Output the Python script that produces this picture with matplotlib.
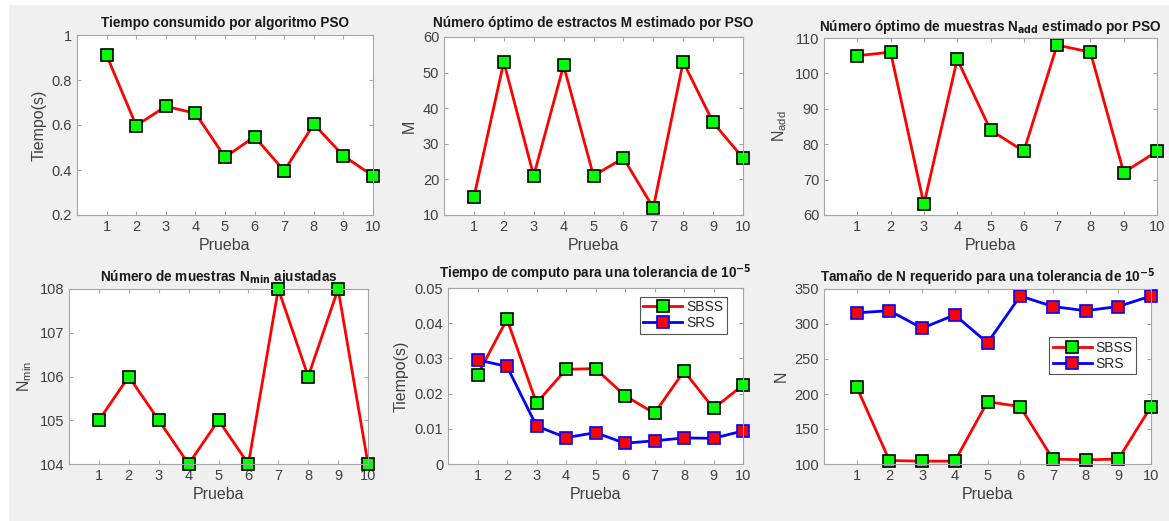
import matplotlib
matplotlib.use('Agg')
import matplotlib.pyplot as plt
from matplotlib.patches import Rectangle

plt.rcParams['font.family'] = ['Liberation Sans', 'DejaVu Sans']

prueba = [1, 2, 3, 4, 5, 6, 7, 8, 9, 10]

# Tiempo consumido por PSO
tiempo_pso = [0.91, 0.597, 0.683, 0.652, 0.457, 0.548, 0.396, 0.604, 0.463, 0.374]
# Numero optimo de estratos M
m_opt = [15, 53, 21, 52, 21, 26, 12, 53, 36, 26]
# Numero optimo de muestras N_add
n_add = [105, 106, 63, 104, 84, 78, 108, 106, 72, 78]
# Numero de muestras N_min
n_min = [105, 106, 105, 104, 105, 104, 108, 106, 108, 104]
# Tiempo de computo (tolerancia 1e-5)
t_sbss = [0.0253, 0.0411, 0.0173, 0.0269, 0.0271, 0.0194, 0.0144, 0.0264, 0.0158, 0.0224]
t_srs = [0.0296, 0.0277, 0.0108, 0.0075, 0.0089, 0.0059, 0.0066, 0.0074, 0.0073, 0.0094]
# Tamano de N requerido
n_sbss = [210, 105, 104, 104, 189, 182, 107, 106, 107, 182]
n_srs = [316, 319, 294, 313, 273, 340, 325, 319, 325, 340]

W, H = 1169, 521
BG = '#f0f0f0'
EDGE = '#a6a6a6'
TXT = '#404040'

fig = plt.figure(figsize=(W / 100, H / 100), dpi=100, facecolor=BG)
# thin white strips on top and left edges of the screenshot
fig.patches.append(Rectangle((0, 1 - 4 / H), 1, 4 / H, transform=fig.transFigure,
                             color='white', zorder=-1))
fig.patches.append(Rectangle((0, 0), 8 / W, 1, transform=fig.transFigure,
                             color='white', zorder=-1))


def make_ax(l, t, r, b):
    ax = fig.add_axes([l / W, 1 - b / H, (r - l) / W, (b - t) / H])
    for s in ax.spines.values():
        s.set_color(EDGE)
        s.set_linewidth(0.8)
    ax.tick_params(direction='in', top=True, right=True, color=EDGE,
                   labelcolor=TXT, labelsize=10.5, length=3)
    ax.set_xlim(0, 10)
    ax.set_xticks(prueba)
    ax.set_xlabel('Prueba', color=TXT, fontsize=11.5, labelpad=3)
    return ax


sbss_style = dict(color='red', lw=2, marker='s', markersize=8.5, clip_on=False,
                  markerfacecolor='#00ff00', markeredgecolor='black', markeredgewidth=1.2)
srs_style = dict(color='blue', lw=2, marker='s', markersize=8.5, clip_on=False,
                 markerfacecolor='red', markeredgecolor='blue', markeredgewidth=1.2)
title_kw = dict(fontsize=9.8, fontweight='bold', color='#1a1a1a')


def add_legend(ax, anchor):
    leg = ax.legend(loc='upper right', bbox_to_anchor=anchor, fontsize=10,
                    fancybox=False, framealpha=1, edgecolor='#555555',
                    handlelength=2.8, handletextpad=0.3, borderpad=0.25,
                    labelspacing=0.15, borderaxespad=0)
    leg.get_frame().set_linewidth(0.8)
    for t in leg.get_texts():
        t.set_color('#262626')


# Panel 1
ax = make_ax(77, 35, 373, 215)
ax.plot(prueba, tiempo_pso, **sbss_style)
ax.set_ylim(0.2, 1)
ax.set_yticks([0.2, 0.4, 0.6, 0.8, 1])
ax.set_yticklabels(['0.2', '0.4', '0.6', '0.8', '1'])
ax.set_ylabel('Tiempo(s)', color=TXT, fontsize=11.5)
ax.set_title('Tiempo consumido por algoritmo PSO', pad=6, **title_kw)

# Panel 2
ax = make_ax(444, 37, 743, 215)
ax.plot(prueba, m_opt, **sbss_style)
ax.set_ylim(10, 60)
ax.set_ylabel('M', color=TXT, fontsize=11.5)
ax.set_title('Número óptimo de estractos M estimado por PSO', pad=7, **title_kw)

# Panel 3
ax = make_ax(824, 38, 1157, 215)
ax.plot(prueba, n_add, **sbss_style)
ax.set_ylim(60, 110)
ax.set_ylabel(r'N$_{\mathregular{add}}$', color=TXT, fontsize=11.5)
ax.set_title(r'Número óptimo de muestras N$_{\mathbf{add}}$ estimado por PSO', pad=5, **title_kw)

# Panel 4
ax = make_ax(69, 289, 368, 464)
ax.plot(prueba, n_min, **sbss_style)
ax.set_ylim(104, 108)
ax.set_yticks([104, 105, 106, 107, 108])
ax.set_ylabel(r'N$_{\mathregular{min}}$', color=TXT, fontsize=11.5)
ax.set_title(r'Número de muestras N$_{\mathbf{min}}$ ajustadas', pad=6, **title_kw)

# Panel 5
ax = make_ax(448, 288, 743, 464)
ax.plot(prueba, t_sbss, label='SBSS', **sbss_style)
ax.plot(prueba, t_srs, label='SRS', **srs_style)
ax.set_ylim(0, 0.05)
ax.set_yticks([0, 0.01, 0.02, 0.03, 0.04, 0.05])
ax.set_yticklabels(['0', '0.01', '0.02', '0.03', '0.04', '0.05'])
ax.set_ylabel('Tiempo(s)', color=TXT, fontsize=11.5)
ax.set_title(r'Tiempo de computo para una tolerancia de 10$^{\mathbf{-5}}$', pad=7, **title_kw)
add_legend(ax, (0.945, 0.95))

# Panel 6
ax = make_ax(824, 289, 1151, 464)
ax.plot(prueba, n_sbss, label='SBSS', **sbss_style)
ax.plot(prueba, n_srs, label='SRS', **srs_style)
ax.set_ylim(100, 350)
ax.set_ylabel('N', color=TXT, fontsize=11.5)
ax.set_title(r'Tamaño de N requerido para una tolerancia de 10$^{\mathbf{-5}}$', pad=5, **title_kw)
add_legend(ax, (0.955, 0.725))

fig.savefig('out.png', dpi=100, facecolor=BG)
